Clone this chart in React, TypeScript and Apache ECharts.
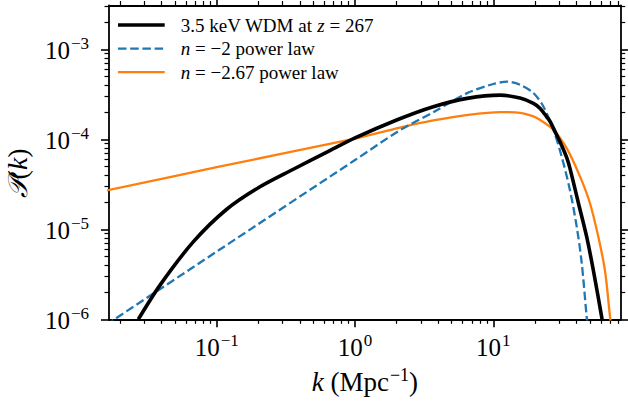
import React, { useEffect, useRef } from 'react';
import * as echarts from 'echarts';

// ---- data (k in Mpc^-1, P dimensionless) ----
const kWDM = [0.0271, 0.0389, 0.0676, 0.1175, 0.204, 0.355, 0.631, 1.0, 2.0, 3.63, 6.46, 11.2, 15.6, 19.5, 21.7, 24.3, 25.7, 28.7, 30.3, 33.9, 35.8, 41.1, 47.3, 52.8, 60.7, 63.1];
const pWDM = [1.0e-6, 2.4e-6, 7.24e-6, 1.66e-5, 2.95e-5, 4.62e-5, 7.24e-5, 1.035e-4, 1.64e-4, 2.29e-4, 2.85e-4, 3.1e-4, 2.87e-4, 2.51e-4, 2.22e-4, 1.78e-4, 1.58e-4, 1.12e-4, 9.46e-5, 6.31e-5, 4.79e-5, 2.0e-5, 8.3e-6, 3.55e-6, 1.07e-6, 7.08e-7];

const kN2 = [0.0158, 0.0182, 0.1, 1.0, 2.11, 3.68, 6.41, 10.0, 12.6, 15.6, 19.5, 23.0, 27.2, 31.2, 35.8, 40.1, 43.6, 47.3, 49.0];
const pN2 = [8.7e-7, 1.0e-6, 5.66e-6, 5.89e-5, 1.26e-4, 2.0e-4, 3.24e-4, 4.12e-4, 4.37e-4, 4.04e-4, 3.27e-4, 2.32e-4, 1.28e-4, 6.44e-5, 2.74e-5, 1.07e-5, 4.2e-6, 1.07e-6, 6.3e-7];

const kN267 = [0.0158, 0.1, 1.0, 2.11, 3.68, 6.41, 11.2, 15.6, 19.5, 21.7, 27.2, 33.9, 42.4, 50.0, 57.4, 64.1, 69.8, 72.4];
const pN267 = [2.69e-5, 4.9e-5, 1.02e-4, 1.35e-4, 1.62e-4, 1.86e-4, 2.01e-4, 1.97e-4, 1.8e-4, 1.65e-4, 1.28e-4, 7.98e-5, 3.85e-5, 1.95e-5, 8.3e-6, 3.53e-6, 1.07e-6, 6.3e-7];

const seriesNames = ['3.5 keV WDM at z = 267', 'n = −2 power law', 'n = −2.67 power law'];
// legend label pieces: [text, italic?]
const legendPieces: [string, boolean][][] = [
  [['3.5 keV WDM at ', false], ['z', true], [' = 267', false]],
  [['n', true], [' = −2 power law', false]],
  [['n', true], [' = −2.67 power law', false]],
];
const seriesColors = ['#000000', '#1f77b4', '#ff7f0e'];

const xMajor = [0.1, 1, 10];
const xMinor = [0.02, 0.03, 0.04, 0.05, 0.06, 0.07, 0.08, 0.09, 0.2, 0.3, 0.4, 0.5, 0.6, 0.7, 0.8, 0.9, 2, 3, 4, 5, 6, 7, 8, 9, 20, 30, 40, 50, 60, 70, 80];
const yMajor = [1e-6, 1e-5, 1e-4, 1e-3];
const yMinor = [2e-6, 3e-6, 4e-6, 5e-6, 6e-6, 7e-6, 8e-6, 9e-6, 2e-5, 3e-5, 4e-5, 5e-5, 6e-5, 7e-5, 8e-5, 9e-5, 2e-4, 3e-4, 4e-4, 5e-4, 6e-4, 7e-4, 8e-4, 9e-4, 2e-3, 3e-3];

const X_MIN = 0.01663;
const X_MAX = 83.4;
const Y_MIN = 0.99999e-6;
const Y_MAX = 3.07e-3;

const FONT = '"Liberation Serif", "DejaVu Serif", serif';
const LEG_SIZE = 19;
const SPINE = 1.8;
const LINE_W = [3.6, 2.3, 2.3];
const DASH = [8.5, 3.7];

const expRich = {
  b: { fontSize: 25, fontFamily: FONT, color: '#000', verticalAlign: 'bottom' as const, lineHeight: 25 },
  s: { fontSize: 17, fontFamily: FONT, color: '#000', verticalAlign: 'bottom' as const, padding: [0, 0, 11, 1] },
};
const fmtExp = (v: number) => {
  const e = Math.round(Math.log10(v));
  return `{b|10}{s|${e < 0 ? '−' + Math.abs(e) : e}}`;
};

function xAxisDef(position: 'top' | 'bottom', ticks: number[], len: number, labels: boolean, line: boolean) {
  return {
    type: 'log', logBase: 10, min: X_MIN, max: X_MAX, position, gridIndex: 0,
    axisLine: { show: line, lineStyle: { color: '#000', width: SPINE } },
    axisTick: { show: true, inside: false, length: len, customValues: ticks, lineStyle: { color: '#000', width: len > 6 ? 1.6 : 1.2 } },
    axisLabel: labels
      ? { show: true, customValues: xMajor, formatter: fmtExp, rich: expRich, margin: 13 }
      : { show: false },
    splitLine: { show: false },
    minorTick: { show: false },
    ...(labels && position === 'bottom'
      ? {
          name: '{i|k}{t| (Mpc}{s|−1}{t|)}', nameLocation: 'middle', nameGap: 47,
          nameTextStyle: {
            fontFamily: FONT, fontSize: 27, color: '#000', verticalAlign: 'top',
            rich: {
              i: { fontFamily: FONT, fontSize: 27, fontStyle: 'italic', verticalAlign: 'bottom', lineHeight: 27 },
              t: { fontFamily: FONT, fontSize: 27, verticalAlign: 'bottom', lineHeight: 27 },
              s: { fontFamily: FONT, fontSize: 18, verticalAlign: 'bottom', padding: [0, 0, 11, 1] },
            },
          },
        }
      : {}),
  };
}

function yAxisDef(position: 'left' | 'right', ticks: number[], len: number, labels: boolean, line: boolean) {
  return {
    type: 'log', logBase: 10, min: Y_MIN, max: Y_MAX, position, gridIndex: 0,
    axisLine: { show: line, lineStyle: { color: '#000', width: SPINE } },
    axisTick: { show: true, inside: false, length: len, customValues: ticks, lineStyle: { color: '#000', width: len > 6 ? 1.6 : 1.2 } },
    axisLabel: labels
      ? { show: true, customValues: yMajor, formatter: fmtExp, rich: expRich, margin: 20 }
      : { show: false },
    splitLine: { show: false },
    minorTick: { show: false },
    ...(labels && position === 'left'
      ? {
          name: '{c|𝒫}{t|(}{i|k}{t|)}{g|}', nameLocation: 'middle', nameGap: 77, nameRotate: 90,
          nameTextStyle: {
            fontFamily: FONT, fontSize: 28, color: '#000',
            rich: {
              c: { fontFamily: '"DejaVu Serif", "DejaVu Sans", serif', fontSize: 27, fontStyle: 'italic', lineHeight: 30 },
              t: { fontFamily: FONT, fontSize: 28, lineHeight: 30 },
              i: { fontFamily: FONT, fontSize: 28, fontStyle: 'italic', lineHeight: 30 },
              g: { width: 22, lineHeight: 30 },
            },
          },
        }
      : {}),
  };
}

export default function App() {
  const ref = useRef<HTMLDivElement>(null);
  useEffect(() => {
    if (!ref.current) return;
    const chart = echarts.init(ref.current, null, { renderer: 'svg' });
    const mk = (ks: number[], ps: number[]) => ks.map((k, i) => [k, ps[i]]);

    // text measurement for laying out the legend pieces
    const ctx = document.createElement('canvas').getContext('2d')!;
    const fontOf = (italic: boolean) => `${italic ? 'italic ' : ''}${LEG_SIZE}px ${FONT}`;
    const measure = (s: string, italic: boolean) => {
      ctx.font = fontOf(italic);
      return ctx.measureText(s).width;
    };

    // legend drawn as graphic elements (handles + text)
    const LEG_X = 118, LEG_W = 46.7, LEG_Y0 = 25, LEG_DY = 23.6, LEG_TX = 180.7;
    const legendGraphics: any[] = [];
    seriesNames.forEach((_, i) => {
      const y = LEG_Y0 + i * LEG_DY;
      legendGraphics.push({
        type: 'line', z: 100,
        shape: { x1: LEG_X, y1: y, x2: LEG_X + LEG_W, y2: y },
        style: { stroke: seriesColors[i], lineWidth: LINE_W[i], lineDash: i === 1 ? DASH : null },
      });
      let x = LEG_TX;
      legendPieces[i].forEach(([txt, italic]) => {
        legendGraphics.push({
          type: 'text', z: 100, x, y,
          style: {
            text: txt, fill: '#000',
            font: fontOf(italic),
            verticalAlign: 'middle', align: 'left',
          },
        });
        x += measure(txt, italic);
      });
    });

    chart.setOption({
      animation: false,
      backgroundColor: '#fff',
      textStyle: { fontFamily: FONT },
      grid: { left: 109, right: 7.3, top: 5.5, bottom: 83.7, containLabel: false, outerBoundsMode: 'none' },
      xAxis: [
        xAxisDef('bottom', xMajor, 8, true, true),
        xAxisDef('bottom', xMinor, 4.5, false, false),
        xAxisDef('top', xMajor, 8, false, true),
        xAxisDef('top', xMinor, 4.5, false, false),
      ],
      yAxis: [
        yAxisDef('left', yMajor, 8, true, true),
        yAxisDef('left', yMinor, 4.5, false, false),
        yAxisDef('right', yMajor, 8, false, true),
        yAxisDef('right', yMinor, 4.5, false, false),
      ],
      graphic: legendGraphics,
      series: [
        {
          name: seriesNames[0], type: 'line', data: mk(kWDM, pWDM), symbol: 'none', smooth: 0.3, z: 5,
          lineStyle: { color: seriesColors[0], width: LINE_W[0] }, itemStyle: { color: seriesColors[0] }, clip: true,
        },
        {
          name: seriesNames[1], type: 'line', data: mk(kN2, pN2), symbol: 'none', smooth: 0.3, z: 4,
          lineStyle: { color: seriesColors[1], width: LINE_W[1], type: DASH }, itemStyle: { color: seriesColors[1] }, clip: true,
        },
        {
          name: seriesNames[2], type: 'line', data: mk(kN267, pN267), symbol: 'none', smooth: 0.3, z: 3,
          lineStyle: { color: seriesColors[2], width: LINE_W[2] }, itemStyle: { color: seriesColors[2] }, clip: true,
        },
      ],
    });
    return () => chart.dispose();
  }, []);
  return <div ref={ref} style={{ position: 'fixed', left: 0, top: 0, width: 628, height: 403 }} />;
}
